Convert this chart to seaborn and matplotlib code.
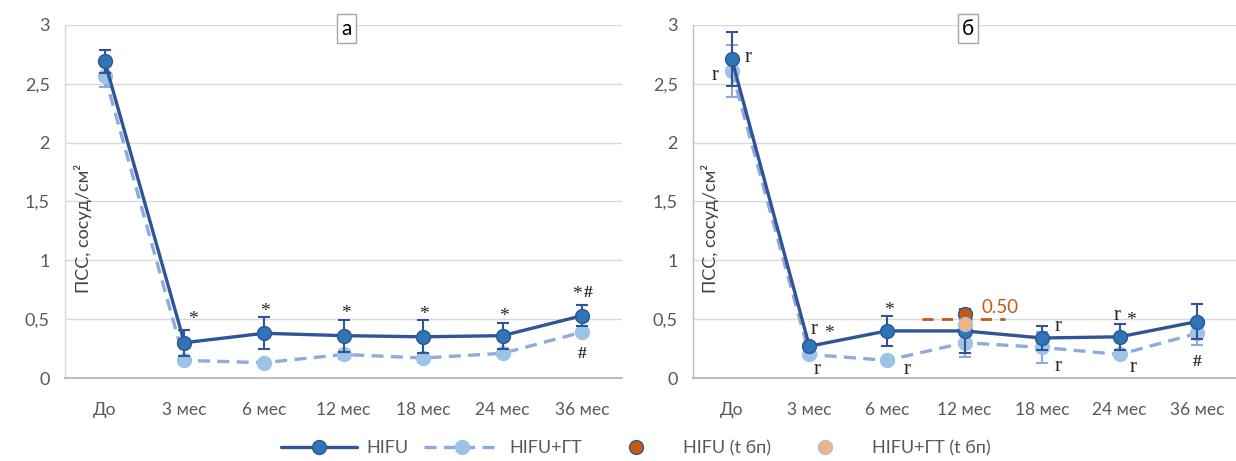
import matplotlib
matplotlib.use("Agg")
import matplotlib.pyplot as plt
import numpy as np
import pandas as pd
import seaborn as sns
from matplotlib.lines import Line2D

# ---------------- data ----------------
periods = ["До", "3 мес", "6 мес", "12 мес", "18 мес", "24 мес", "36 мес"]
y_ticks = [0, 0.5, 1, 1.5, 2, 2.5, 3]
y_tick_labels = ["0", "0,5", "1", "1,5", "2", "2,5", "3"]

a_hifu = [2.69, 0.30, 0.38, 0.36, 0.35, 0.36, 0.53]
a_hifu_err = [0.10, 0.11, 0.135, 0.135, 0.14, 0.11, 0.09]
a_hifu_gt = [2.57, 0.15, 0.13, 0.20, 0.17, 0.21, 0.39]
a_hifu_gt_err = [0.10, 0.03, 0.02, 0.04, 0.03, 0.03, 0.03]

b_hifu = [2.71, 0.27, 0.40, 0.40, 0.34, 0.35, 0.48]
b_hifu_err = [0.23, 0.03, 0.125, 0.19, 0.10, 0.11, 0.15]
b_hifu_gt = [2.61, 0.20, 0.15, 0.30, 0.26, 0.20, 0.38]
b_hifu_gt_err = [0.22, 0.03, 0.03, 0.12, 0.13, 0.03, 0.10]

b_tbp_period = "12 мес"
b_hifu_tbp = 0.54
b_hifu_gt_tbp = 0.455
b_threshold = 0.50
b_threshold_label = "0.50"

series_names = ["HIFU", "HIFU+ГТ", "HIFU (t бп)", "HIFU+ГТ (t бп)"]
panel_titles = ["а", "б"]
y_label = "ПСС, сосуд/см²"

# significance marks: (period, series, text)
a_marks = [("3 мес", "HIFU", "*"), ("6 мес", "HIFU", "*"), ("12 мес", "HIFU", "*"),
           ("18 мес", "HIFU", "*"), ("24 мес", "HIFU", "*"), ("36 мес", "HIFU", "*"),
           ("36 мес", "HIFU", "#"), ("36 мес", "HIFU+ГТ", "#")]
b_marks = [("До", "HIFU", "r"), ("До", "HIFU+ГТ", "r"),
           ("3 мес", "HIFU", "r"), ("3 мес", "HIFU", "*"), ("3 мес", "HIFU+ГТ", "r"),
           ("6 мес", "HIFU", "*"), ("6 мес", "HIFU+ГТ", "r"),
           ("18 мес", "HIFU", "r"), ("18 мес", "HIFU+ГТ", "r"),
           ("24 мес", "HIFU", "r"), ("24 мес", "HIFU", "*"), ("24 мес", "HIFU+ГТ", "r"),
           ("36 мес", "HIFU+ГТ", "#")]

# ---------------- styles ----------------
a_mark_offsets = [(6.5, 17), (0.7, 16), (1.4, 16), (0.7, 16), (0.7, 14), (-4, 15),
                  (4.5, 16), (0, -16)]
b_mark_offsets = [(11.5, 1), (-12, -3), (3.6, 12), (14.4, 9), (5.8, -11),
                  (1.4, 15), (14.4, -6.5), (11.5, 8), (11.5, -13.7),
                  (-2, 15), (8, 12), (10, -9.4), (0, -21)]

C_DARK_LINE = "#2F5597"
C_DARK_FILL = "#2E75B6"
C_LIGHT_LINE = "#8FAADC"
C_LIGHT_FILL = "#9DC3E6"
C_OR_DARK = "#C55A11"
C_OR_LIGHT = "#F4B183"
C_GRID = "#D9D9D9"
C_AXIS = "#BFBFBF"
C_TEXT = "#595959"

sns.set_style("white")
plt.rcParams["font.family"] = ["Lato", "DejaVu Sans"]

W, H = 1236, 461
fig = plt.figure(figsize=(W / 100, H / 100), dpi=100)

ax_a = fig.add_axes([65 / W, 1 - 378 / H, 557 / W, 353 / H])
ax_b = fig.add_axes([693 / W, 1 - 378 / H, 543 / W, 353 / H])

DASH = (0, (3.6, 2.2))


def draw_panel(ax, hifu, hifu_err, gt, gt_err, title):
    x = np.arange(len(periods))
    df = pd.DataFrame({"x": np.concatenate([x, x]),
                       "value": list(gt) + list(hifu),
                       "series": [series_names[1]] * len(x) + [series_names[0]] * len(x)})
    d_gt = df[df.series == series_names[1]]
    d_h = df[df.series == series_names[0]]

    ax.errorbar(x, gt, yerr=gt_err, fmt="none", ecolor=C_LIGHT_LINE, elinewidth=1.5,
                capsize=4.5, capthick=1.5, zorder=2)
    sns.lineplot(data=d_gt, x="x", y="value", ax=ax, color=C_LIGHT_LINE, linewidth=2.4,
                 linestyle=DASH, marker="o", markersize=10, markerfacecolor=C_LIGHT_FILL,
                 markeredgecolor=C_LIGHT_FILL, markeredgewidth=1, errorbar=None,
                 legend=False, zorder=3)
    ax.errorbar(x, hifu, yerr=hifu_err, fmt="none", ecolor=C_DARK_LINE, elinewidth=1.5,
                capsize=4.5, capthick=1.5, zorder=4)
    sns.lineplot(data=d_h, x="x", y="value", ax=ax, color=C_DARK_LINE, linewidth=2.4,
                 marker="o", markersize=10, markerfacecolor=C_DARK_FILL,
                 markeredgecolor=C_DARK_LINE, markeredgewidth=1, errorbar=None,
                 legend=False, zorder=5)

    ax.set_xlim(-0.5, len(periods) - 0.5)
    ax.set_ylim(0, 3)
    ax.set_xticks(x)
    ax.set_xticklabels(periods, fontsize=12.5, color=C_TEXT)
    ax.set_xticks(np.arange(-0.5, len(periods)), minor=True)
    ax.tick_params(axis="x", which="major", length=0, pad=17)
    ax.tick_params(axis="x", which="minor", length=6, width=1.2, color=C_AXIS, direction="out")
    ax.set_yticks(y_ticks)
    ax.set_yticklabels(y_tick_labels, fontsize=13, color=C_TEXT)
    ax.tick_params(axis="y", length=5, width=1, color=C_GRID, pad=6)
    ax.yaxis.grid(True, color=C_GRID, linewidth=1)
    ax.set_axisbelow(True)
    ax.set_xlabel("")
    ax.set_ylabel("")
    for s in ["top", "right"]:
        ax.spines[s].set_visible(False)
    ax.spines["left"].set_color(C_GRID)
    ax.spines["left"].set_linewidth(1)
    ax.spines["bottom"].set_color(C_AXIS)
    ax.spines["bottom"].set_linewidth(1.5)

    ax.text(0.032, 1.27, y_label, transform=ax.get_yaxis_transform(), rotation=90,
            ha="center", va="center", fontsize=13, color="#404040")
    ax.text(0.506, 0.99, title, transform=ax.transAxes, ha="center", va="center",
            fontsize=15, color="black",
            bbox=dict(boxstyle="square,pad=0.2", facecolor="white", edgecolor="#A6A6A6",
                      linewidth=1))


def draw_marks(ax, marks, offsets, hifu, gt):
    lookup = {series_names[0]: hifu, series_names[1]: gt}
    for (period, series, text), (dx, dy) in zip(marks, offsets):
        i = periods.index(period)
        v = lookup[series][i]
        if text == "r":
            fp = dict(family="Liberation Serif", fontsize=15)
        elif "#" in text:
            fp = dict(family="Liberation Serif", fontsize=12.5, fontweight="bold")
        else:
            fp = dict(family="Liberation Serif", fontsize=14)
        ax.annotate(text, xy=(i, v), xytext=(dx, dy), textcoords="offset points",
                    ha="center", va="center", color="#262626", zorder=7, **fp)


draw_panel(ax_a, a_hifu, a_hifu_err, a_hifu_gt, a_hifu_gt_err, panel_titles[0])
draw_panel(ax_b, b_hifu, b_hifu_err, b_hifu_gt, b_hifu_gt_err, panel_titles[1])
ax_b.spines["left"].set_color(C_AXIS)
draw_marks(ax_a, a_marks, a_mark_offsets, a_hifu, a_hifu_gt)
draw_marks(ax_b, b_marks, b_mark_offsets, b_hifu, b_hifu_gt)

# t бп points and threshold in panel б
ti = periods.index(b_tbp_period)
ax_b.plot([ti - 0.55, ti + 0.52], [b_threshold, b_threshold], color=C_OR_DARK,
          linewidth=2, linestyle=(0, (4, 3)), zorder=6)
sns.scatterplot(x=[ti], y=[b_hifu_tbp], ax=ax_b, color=C_OR_DARK, s=100,
                edgecolor=C_DARK_LINE, linewidth=1, zorder=8, legend=False)
sns.scatterplot(x=[ti], y=[b_hifu_gt_tbp], ax=ax_b, color=C_OR_LIGHT, s=100,
                edgecolor=C_LIGHT_FILL, linewidth=1, zorder=9, legend=False)
ax_b.annotate(b_threshold_label, xy=(ti + 0.22, b_threshold), xytext=(0, 8.5),
              textcoords="offset points", ha="left", va="center", fontsize=13.5,
              color=C_OR_DARK, zorder=9)

# legend
handles = [
    Line2D([], [], color=C_DARK_LINE, linewidth=2.4, marker="o", markersize=10,
           markerfacecolor=C_DARK_FILL, markeredgecolor=C_DARK_LINE),
    Line2D([], [], color=C_LIGHT_LINE, linewidth=2.4, linestyle=DASH, marker="o",
           markersize=10, markerfacecolor=C_LIGHT_FILL, markeredgecolor=C_LIGHT_FILL),
    Line2D([], [], linestyle="none", marker="o", markersize=10,
           markerfacecolor=C_OR_DARK, markeredgecolor=C_DARK_LINE),
    Line2D([], [], linestyle="none", marker="o", markersize=10,
           markerfacecolor=C_OR_LIGHT, markeredgecolor=C_LIGHT_FILL),
]
leg = fig.legend(handles, series_names, loc="center", bbox_to_anchor=(636 / W, 1 - 448 / H),
                 ncol=4, frameon=False, fontsize=13, handlelength=4.2, handletextpad=0.5,
                 columnspacing=0.9)
for t in leg.get_texts():
    t.set_color(C_TEXT)

fig.savefig("out.png", dpi=100)
